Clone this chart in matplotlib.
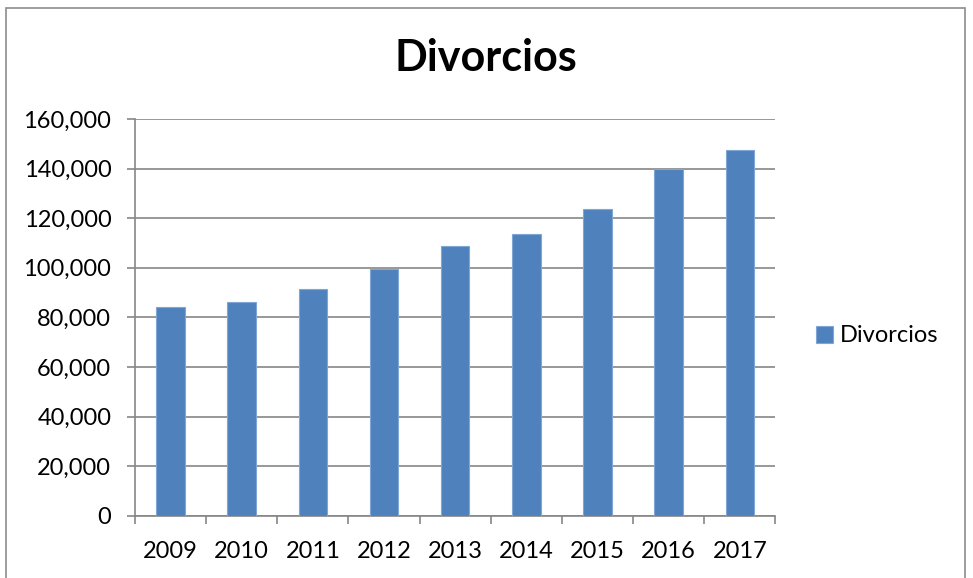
import matplotlib.pyplot as plt
import matplotlib.patches as patches
from matplotlib.ticker import FuncFormatter, MultipleLocator
import numpy as np

years = ["2009", "2010", "2011", "2012", "2013", "2014", "2015", "2016", "2017"]
divorcios = [84302, 86042, 91285, 99509, 108727, 113478, 123883, 139807, 147581]

plt.rcParams["font.family"] = ["Lato", "DejaVu Sans"]

fig = plt.figure(figsize=(9.73, 5.78), dpi=100)
ax = fig.add_axes([0.1387, 0.1078, 0.797 - 0.1387, 0.794 - 0.1078])

# marco exterior del grafico
frame = patches.Rectangle((5.5 / 973, -0.05), (964.5 - 5.5) / 973, 1 - 7.5 / 578 + 0.05,
                          transform=fig.transFigure, fill=False,
                          edgecolor="#8c8c8c", linewidth=1.2, clip_on=False)
fig.add_artist(frame)

x = np.arange(len(years))
ax.bar(x, divorcios, width=0.4, color="#4F81BD", edgecolor="#7FA6D4",
       linewidth=0.8, label="Divorcios", zorder=3)

ax.set_xlim(-0.5, len(years) - 0.5)
ax.set_ylim(0, 160000)
ax.yaxis.set_major_locator(MultipleLocator(20000))
ax.yaxis.set_major_formatter(FuncFormatter(lambda v, p: f"{int(v):,}"))
ax.grid(axis="y", color="#868686", linewidth=1.2, zorder=0)

ax.set_xticks(np.arange(-0.5, len(years), 1.0))
ax.set_xticklabels([])
ax.set_xticks(x, minor=True)
ax.set_xticklabels(years, minor=True, fontsize=17)
ax.tick_params(axis="x", which="major", length=6, color="#868686", width=1.2)
ax.tick_params(axis="x", which="minor", length=0, pad=18)
ax.tick_params(axis="y", length=6, color="#868686", width=1.2, labelsize=17, pad=11)

for side in ["top", "right"]:
    ax.spines[side].set_visible(False)
for side in ["left", "bottom"]:
    ax.spines[side].set_color("#868686")
    ax.spines[side].set_linewidth(1.2)

fig.text(486 / 973, 1 - 58 / 578, "Divorcios", ha="center", va="center",
         fontsize=31, fontweight="bold")

ax.legend(loc="center left", bbox_to_anchor=(795 / 973, 1 - 336 / 578),
          bbox_transform=fig.transFigure, frameon=False, fontsize=17,
          handlelength=0.7, handleheight=0.7, handletextpad=0.3)

fig.savefig("out.png", dpi=100)
